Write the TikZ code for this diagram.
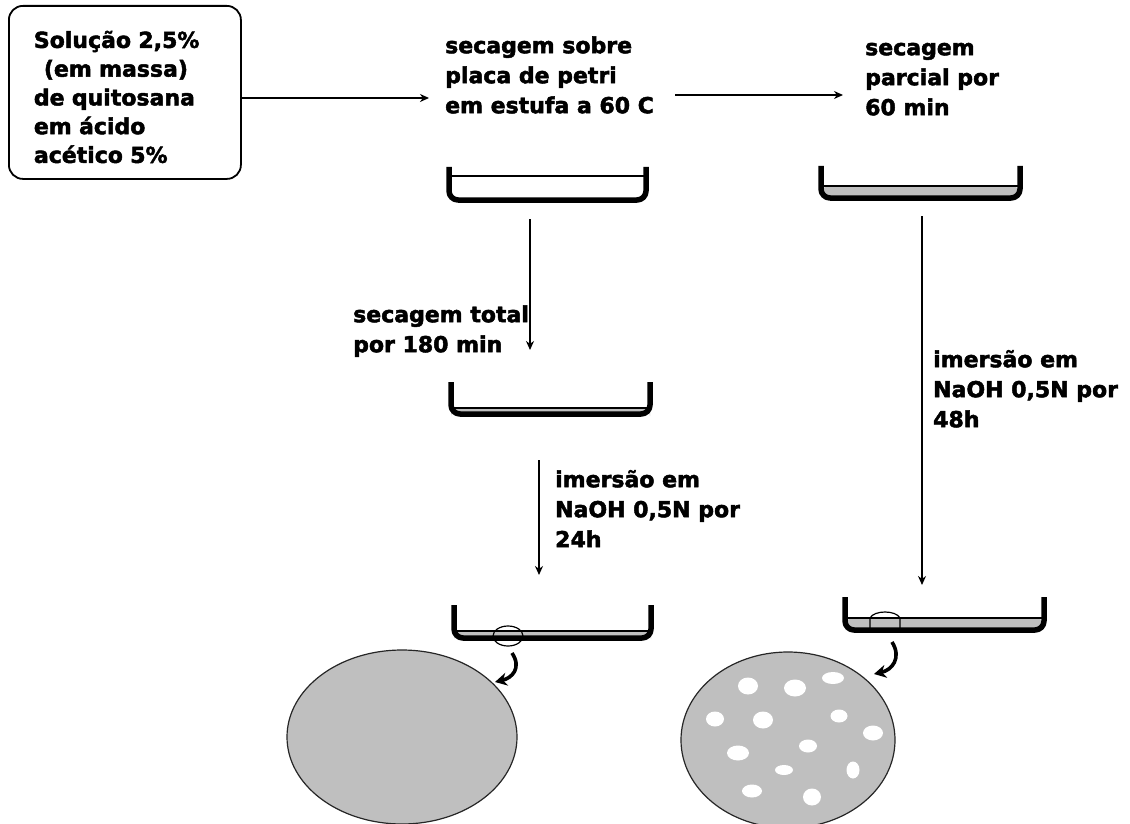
\documentclass[tikz,border=0pt]{standalone}
\usepackage{fontspec}
\setmainfont{DejaVu Sans}[BoldFeatures={FakeBold=2.2}]
\usetikzlibrary{arrows.meta}
\definecolor{filmgray}{gray}{0.75}
\tikzset{
  lbl/.style={font=\fontsize{22}{30}\selectfont\bfseries, align=left, inner sep=0pt, anchor=north west},
  flow/.style={line width=1.6pt, -{Stealth[length=9pt,width=8pt]}},
  hook/.style={line width=3.6pt, -{Stealth[length=12pt,width=13pt]}},
  dishwall/.style={line width=5.5pt, rounded corners=9pt, line join=round},
  film/.style={fill=filmgray, rounded corners=8pt},
  surface/.style={line width=1.6pt},
  plate/.style={fill=filmgray, draw=black!85, line width=1.2pt},
  spot/.style={fill=white, draw=none},
  lens/.style={draw=black, line width=1.2pt}
}
\begin{document}
\begin{tikzpicture}[x=1pt,y=1pt]
\useasboundingbox (0,0) rectangle (1130,-824);
\fill[white] (0,0) rectangle (1130,-824);

% start box
\node[draw, line width=1.8pt, rounded corners=14pt, fill=white, anchor=north west,
      inner xsep=25pt, inner ysep=0pt, text width=182pt, align=left,
      font=\fontsize{22}{28.75}\selectfont\bfseries] (box) at (8,-5)
  {\rule{0pt}{42pt}Solução 2,5\%\\
   \hspace*{10pt}(em massa)\\
   de quitosana\\
   em ácido\\
   acético 5\%\rule[-16pt]{0pt}{16pt}};

% labels
\node[lbl] (t2) at (445,-33) {\rule{0pt}{20pt}secagem sobre\\placa de petri\\em estufa a 60 C};
\node[lbl] (t3) at (865,-35) {\rule{0pt}{20pt}secagem\\parcial por\\60 min};
\node[lbl] (t4) at (353,-302) {\rule{0pt}{20pt}secagem total\\por 180 min};
\node[lbl] (t5) at (555,-467) {\rule{0pt}{20pt}imersão em\\NaOH 0,5N por\\24h};
\node[lbl] (t6) at (933,-347) {\rule{0pt}{20pt}imersão em\\NaOH 0,5N por\\48h};

% arrow end points
\coordinate (a1s) at (box.east |- 0,-98);
\coordinate (a1e) at (429,-98);
\coordinate (a2s) at (675,-95);
\coordinate (a2e) at (843,-95);
\coordinate (a3s) at (530,-219);
\coordinate (a3e) at (530,-350);
\coordinate (a4s) at (539,-460);
\coordinate (a4e) at (539,-575);
\coordinate (a5s) at (922,-216);
\coordinate (a5e) at (922,-585);

\draw[flow] (a1s) -- (a1e);
\draw[flow] (a2s) -- (a2e);
\draw[flow] (a3s) -- (a3e);
\draw[flow] (a4s) -- (a4e);
\draw[flow] (a5s) -- (a5e);

% dish 1 (solution)
\draw[surface] (449,-176) -- (646,-176);
\draw[dishwall] (449,-167) -- (449,-200) -- (646,-200) -- (646,-167);

% dish 2 (partial drying)
\fill[film] (821,-186) -- (821,-199) -- (1020,-199) -- (1020,-186) -- cycle;
\draw[surface] (821,-186) -- (1020,-186);
\draw[dishwall] (821,-166) -- (821,-198) -- (1020,-198) -- (1020,-166);

% dish 3 (total drying)
\fill[film] (451,-408) -- (451,-414) -- (650,-414) -- (650,-408) -- cycle;
\draw[surface] (451,-408) -- (650,-408);
\draw[dishwall] (451,-382) -- (451,-414) -- (650,-414) -- (650,-382);

% dish 4 (after NaOH 24h)
\fill[film] (454,-631) -- (454,-638) -- (651,-638) -- (651,-631) -- cycle;
\draw[surface] (454,-631) -- (651,-631);
\draw[dishwall] (454,-605) -- (454,-638) -- (651,-638) -- (651,-605);
\draw[lens] (508,-636) ellipse [x radius=15pt, y radius=10pt];
\coordinate (h1s) at (512,-653);
\coordinate (h1e) at (495,-682);
\draw[hook] (h1s) .. controls (522,-668) and (512,-678) .. (h1e);

% dish 5 (after NaOH 48h)
\fill[film] (845,-618) -- (845,-631) -- (1044,-631) -- (1044,-618) -- cycle;
\draw[surface] (845,-618) -- (1044,-618);
\draw[dishwall] (845,-597) -- (845,-630) -- (1044,-630) -- (1044,-597);
\draw[lens] (870,-628) -- (870,-618) .. controls (874,-610) and (896,-610) .. (900,-618) -- (900,-628);
\coordinate (h2s) at (892,-642);
\coordinate (h2e) at (874,-674);
\draw[hook] (h2s) .. controls (902,-658) and (892,-670) .. (h2e);

% membrane 1 (dense)
\draw[plate] (402,-737) ellipse [x radius=115pt, y radius=87pt];

% membrane 2 (porous)
\draw[plate] (788,-740) ellipse [x radius=107pt, y radius=88pt];
\foreach \x/\y/\rx/\ry in {748/686/10/8.5, 795/688/11/8.5, 833/678/11/6, 715/719/9/7.5,
  763/720/10/8.5, 839/716/8.5/6.5, 873/733/10/7.5, 808/746/9/6.5, 738/753/11/7.5,
  784/770/9/5, 853/770/6.5/8.5, 752/791/10/6.5, 812/797/9/8.5}
  \fill[spot] (\x,-\y) ellipse [x radius=\rx pt, y radius=\ry pt];
\end{tikzpicture}
\end{document}
